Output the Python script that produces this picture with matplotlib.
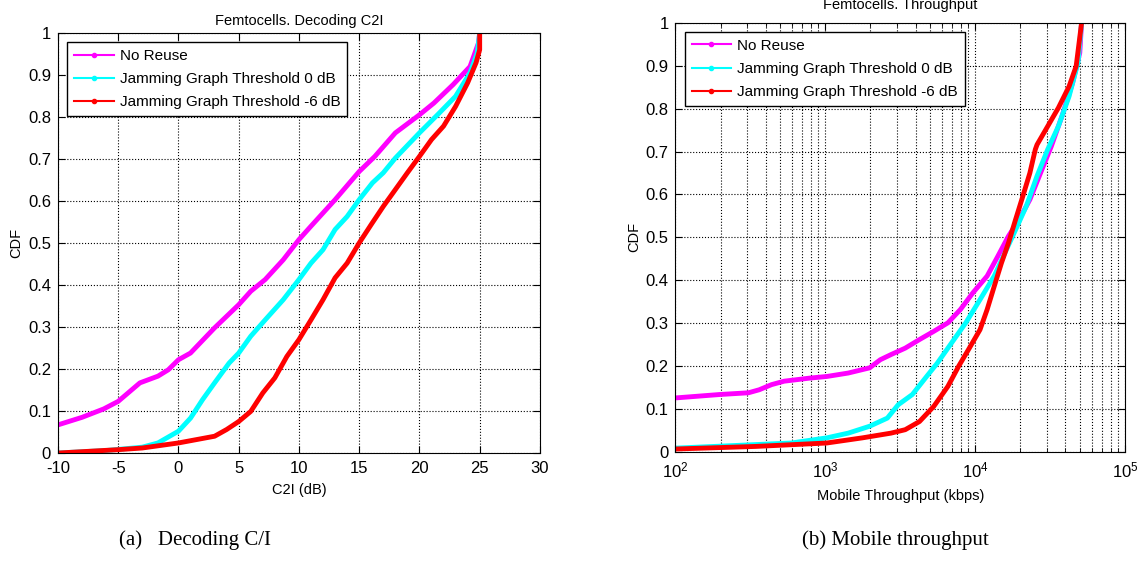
import numpy as np
import matplotlib
matplotlib.use("Agg")
import matplotlib.pyplot as plt
from matplotlib.lines import Line2D

plt.rcParams['font.family'] = ['Liberation Sans', 'DejaVu Sans']
plt.rcParams['mathtext.fontset'] = 'custom'
plt.rcParams['mathtext.rm'] = 'Liberation Sans'
plt.rcParams['axes.unicode_minus'] = False

# (a) Decoding C2I CDF
c2i_noreuse_x = [-10, -8, -6.2, -5, -3.2, -1.7, -0.85, 0, 1, 3, 5, 6, 7.2, 8.7, 10, 11, 13, 15, 16.3, 18, 20, 21.2, 22.8, 24.2, 24.9, 25]
c2i_noreuse_y = [0.067, 0.085, 0.105, 0.123, 0.167, 0.183, 0.198, 0.222, 0.238, 0.298, 0.353, 0.385, 0.413, 0.46, 0.508, 0.54, 0.603, 0.67, 0.706, 0.762, 0.805, 0.833, 0.877, 0.92, 0.976, 1.0]

c2i_jam0_x = [-10, -6, -3, -1.7, 0, 1, 2, 3, 4.2, 5, 6, 7.2, 8.7, 10, 11, 12, 13, 14, 15, 16.1, 17, 18, 20, 21.5, 23, 24.2, 24.8, 25]
c2i_jam0_y = [0.0, 0.006, 0.014, 0.024, 0.052, 0.083, 0.127, 0.167, 0.214, 0.238, 0.278, 0.317, 0.365, 0.413, 0.452, 0.484, 0.532, 0.563, 0.603, 0.643, 0.667, 0.702, 0.762, 0.805, 0.849, 0.905, 0.952, 1.0]

c2i_jam6_x = [-10, -5, -3, 0, 3, 4, 5, 6, 7, 8, 9, 10, 11, 12, 13, 14, 15, 16, 17, 18, 19, 20, 21, 22, 23, 24, 24.7, 25, 25]
c2i_jam6_y = [0.0, 0.008, 0.012, 0.024, 0.04, 0.056, 0.075, 0.099, 0.143, 0.179, 0.23, 0.27, 0.317, 0.365, 0.417, 0.452, 0.5, 0.544, 0.587, 0.627, 0.667, 0.706, 0.746, 0.778, 0.825, 0.881, 0.929, 0.96, 1.0]

# (b) Mobile throughput CDF (kbps)
thr_noreuse_x = [100, 198, 307, 362, 438, 531, 778, 1023, 1422, 1973, 2327, 2744, 3413, 4249, 5285, 6577, 7970, 9660, 12020, 14160, 16680, 19670, 23170, 27300, 32200, 37900, 44700, 49900, 51300]
thr_noreuse_y = [0.126, 0.134, 0.138, 0.145, 0.157, 0.165, 0.172, 0.176, 0.184, 0.196, 0.215, 0.227, 0.242, 0.262, 0.281, 0.301, 0.332, 0.371, 0.41, 0.456, 0.503, 0.542, 0.588, 0.65, 0.712, 0.782, 0.86, 0.93, 1.0]

thr_jam0_x = [100, 593, 1023, 1422, 1973, 2594, 3062, 3810, 4742, 5587, 6954, 8654, 10770, 13400, 15800, 18620, 21950, 25870, 30490, 35930, 42350, 48550, 51300]
thr_jam0_y = [0.009, 0.021, 0.033, 0.044, 0.06, 0.079, 0.11, 0.134, 0.176, 0.207, 0.254, 0.301, 0.355, 0.41, 0.464, 0.518, 0.573, 0.643, 0.705, 0.759, 0.829, 0.907, 1.0]

thr_jam6_x = [100, 343, 1023, 1770, 2744, 3413, 4249, 5285, 6577, 7762, 9141, 10770, 12020, 13400, 14960, 16680, 18620, 20800, 23170, 25200, 25870, 30490, 35930, 42350, 47200, 51300]
thr_jam6_y = [0.007, 0.013, 0.021, 0.033, 0.044, 0.052, 0.071, 0.106, 0.153, 0.2, 0.242, 0.285, 0.332, 0.386, 0.44, 0.487, 0.542, 0.596, 0.65, 0.705, 0.716, 0.759, 0.802, 0.852, 0.899, 1.0]

labels = ['No Reuse', 'Jamming Graph Threshold 0 dB', 'Jamming Graph Threshold -6 dB']
colors = ['#ff00ff', '#00ffff', '#ff0000']
ytick_labels = ['0', '0.1', '0.2', '0.3', '0.4', '0.5', '0.6', '0.7', '0.8', '0.9', '1']


def style_axes(ax):
    ax.tick_params(direction='in', which='both', top=True, right=True, labelsize=12, length=5)
    ax.tick_params(axis='x', pad=6)
    ax.tick_params(axis='y', pad=5)
    ax.tick_params(which='minor', length=3)
    ax.grid(True, which='major', linestyle=':', color='black', linewidth=0.8)
    for s in ax.spines.values():
        s.set_linewidth(0.8)
    handles = [Line2D([0], [0], color=c, lw=1.5, marker='.', markersize=6) for c in colors]
    leg = ax.legend(handles, labels, loc='upper left', fontsize=11, fancybox=False,
                    edgecolor='black', framealpha=1, handlelength=2.6, handletextpad=0.4,
                    borderaxespad=0.6, labelspacing=0.6, borderpad=0.45, numpoints=1)
    leg.get_frame().set_linewidth(1.0)


fig = plt.figure(figsize=(11.41, 5.67), dpi=100)

ax1 = fig.add_axes([0.0508, 0.201, 0.4224, 0.741])
ax1.plot(c2i_noreuse_x, c2i_noreuse_y, color=colors[0], lw=3.5)
ax1.plot(c2i_jam0_x, c2i_jam0_y, color=colors[1], lw=3.5)
ax1.plot(c2i_jam6_x, c2i_jam6_y, color=colors[2], lw=3.5)
ax1.set_xlim(-10, 30)
ax1.set_ylim(0, 1)
ax1.set_xticks(np.arange(-10, 31, 5))
ax1.set_yticks(np.arange(0, 1.01, 0.1))
ax1.set_yticklabels(ytick_labels)
ax1.set_title('Femtocells. Decoding C2I', fontsize=10.5, pad=6)
ax1.set_xlabel('C2I (dB)', fontsize=10.5, labelpad=5)
ax1.set_ylabel('CDF', fontsize=10.5, labelpad=3)
style_axes(ax1)

ax2 = fig.add_axes([0.592, 0.2028, 0.394, 0.757])
ax2.plot(thr_noreuse_x, thr_noreuse_y, color=colors[0], lw=3.5)
ax2.plot(thr_jam0_x, thr_jam0_y, color=colors[1], lw=3.5)
ax2.plot(thr_jam6_x, thr_jam6_y, color=colors[2], lw=3.5)
ax2.set_xscale('log')
ax2.set_xlim(100, 1e5)
ax2.set_ylim(0, 1)
ax2.set_yticks(np.arange(0, 1.01, 0.1))
ax2.set_yticklabels(ytick_labels)
ax2.set_title('Femtocells. Throughput', fontsize=10.5, pad=10)
ax2.set_xlabel('Mobile Throughput (kbps)', fontsize=10.5, labelpad=6)
ax2.set_ylabel('CDF', fontsize=10.5, labelpad=3)
style_axes(ax2)
ax2.grid(True, which='minor', linestyle=':', color='black', linewidth=0.8)

fig.text(0.171, 0.047, '(a)   Decoding C/I', fontsize=15, family='Liberation Serif', ha='center', va='center')
fig.text(0.785, 0.047, '(b) Mobile throughput', fontsize=15, family='Liberation Serif', ha='center', va='center')

fig.savefig('out.png', dpi=100)
